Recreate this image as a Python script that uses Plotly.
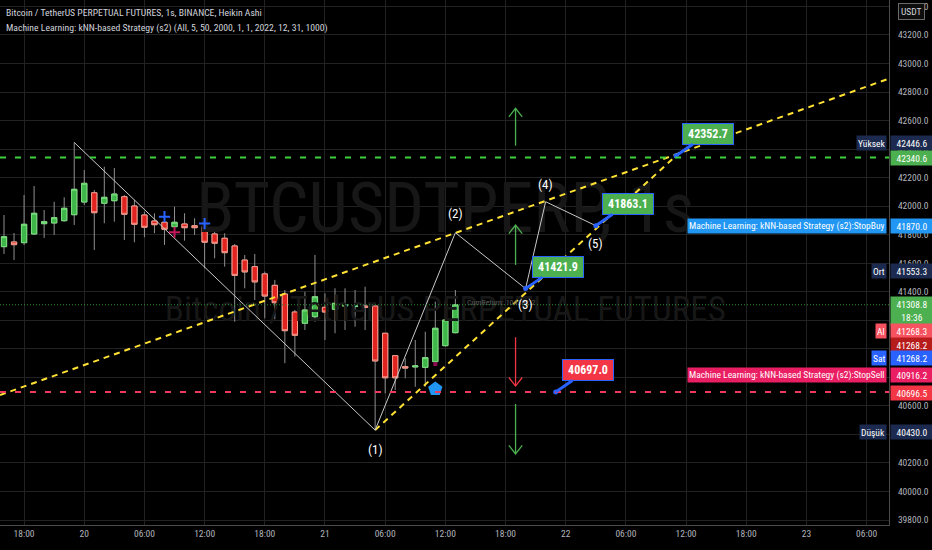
import plotly.graph_objects as go
import pandas as pd

# ---------------- data ----------------
times = pd.date_range("2024-01-19 16:00", periods=46, freq="h")
opens = [41716, 41749, 41744, 41805, 41877, 41882, 41898, 41940, 42029, 42094,
         42020, 42038, 42066, 42001, 41938, 41896, 41887, 41856, 41875, 41863,
         41856, 41805, 41775, 41721, 41622, 41576, 41525, 41445, 41384, 41258,
         41179, 41225, 41291, 41277, 41300, 41296, 41300, 41300, 41109, 40952,
         40875, 40873, 40870, 40910, 41022, 41113]
highs = [41938, 41812, 42078, 42141, 41973, 42031, 42062, 42446.6, 42253, 42113,
         42276, 42267, 42078, 42043, 41961, 41950, 41915, 41996, 41950, 41915,
         41875, 41821, 41810, 41735, 41658, 41665, 41541, 41483, 41412, 41272,
         41400, 41658, 41389, 41424, 41424, 41412, 41435, 41300, 41109, 40952,
         40934, 41062, 41120, 41330, 41337, 41412]
lows = [41665, 41622, 41728, 41798, 41777, 41798, 41891, 41868, 42008, 41693,
        41880, 41891, 41763, 41747, 41782, 41810, 41728, 41786, 41758, 41798,
        41564, 41634, 41576, 41190, 41424, 41342, 41214, 41207, 40899, 40945,
        41132, 41190, 41062, 41109, 41132, 41155, 41132, 40430.0, 40688, 40711,
        40793, 40734, 40734, 40887, 41015, 41109]
closes = [41786, 41730, 41873, 41950, 41891, 41919, 41985, 42118, 42160, 41954,
          42062, 42085, 41943, 41873, 41852, 41870, 41838, 41887, 41849, 41849,
          41747, 41740, 41674, 41515, 41539, 41469, 41370, 41323, 41127, 41095,
          41272, 41365, 41258, 41319, 41307, 41300, 41291, 40915, 40797, 40797,
          40865, 40880, 40938, 41144, 41202, 41308.8]

x_range = ["2024-01-19 15:36", "2024-01-23 08:14"]
y_range = [39765, 43445]
tick_times = ["2024-01-19 18:00", "2024-01-20 00:00", "2024-01-20 06:00", "2024-01-20 12:00",
              "2024-01-20 18:00", "2024-01-21 00:00", "2024-01-21 06:00", "2024-01-21 12:00",
              "2024-01-21 18:00", "2024-01-22 00:00", "2024-01-22 06:00", "2024-01-22 12:00",
              "2024-01-22 18:00", "2024-01-23 00:00", "2024-01-23 06:00"]
tick_text = ["18:00", "20", "06:00", "12:00", "18:00", "21", "06:00", "12:00",
             "18:00", "22", "06:00", "12:00", "18:00", "23", "06:00"]

# Elliott-like wave
wave_t = ["2024-01-19 23:00", "2024-01-21 05:00", "2024-01-21 13:00",
          "2024-01-21 20:00", "2024-01-21 22:00", "2024-01-22 03:00"]
wave_p = [42446.6, 40430.0, 41814, 41421.9, 42031, 41863.1]
wave_labels = ["(1)", "(2)", "(3)", "(4)", "(5)"]
wave_label_p = [40291, 41952, 41314, 42155, 41735]

# channel lines
upper_t = ["2024-01-19 15:36", "2024-01-23 08:14"]
upper_p = [40676, 42894]
lower_t = ["2024-01-21 05:00", "2024-01-22 11:00"]
lower_p = [40430.0, 42352.7]

# levels
high_level = 42340.6
low_level = 40696.5
last_price = 41308.8

# target callouts
target_t = ["2024-01-22 11:00", "2024-01-22 03:00", "2024-01-21 20:00", "2024-01-21 23:00"]
target_p = [42352.7, 41863.1, 41421.9, 40697.0]

# arrows (time, from, to)
arrow_t = "2024-01-21 19:00"
arrow_from = [42424, 41588, 41081, 40613]
arrow_to = [42686, 41868, 40739, 40263]

# signal markers
buy_plus_t = ["2024-01-20 08:00", "2024-01-20 12:00"]
buy_plus_p = [41926, 41878]
sell_plus_t = ["2024-01-20 09:00"]
sell_plus_p = [41817]
mark_t = ["2024-01-21 11:00"]
mark_p = [40893]
house_t = ["2024-01-21 11:00"]
house_p = [40718]

# right-axis labels
axis_label_text = ["42446.6", "42340.6", "41870.0", "41553.3", "41308.8<br>18:36",
                   "41268.3", "41268.2", "41268.2", "40916.2", "40696.5", "40430.0"]
axis_label_price = [42446.6, 42340.6, 41870.0, 41553.3, 41308.8,
                    41268.3, 41268.2, 41268.2, 40916.2, 40696.5, 40430.0]
axis_side_text = ["Yüksek", "", "Machine Learning: kNN-based Strategy (s2):StopBuy", "Ort", "",
                  "Al", "", "Sat", "Machine Learning: kNN-based Strategy (s2):StopSell", "", "Düşük"]

title1 = "Bitcoin / TetherUS PERPETUAL FUTURES, 1s, BINANCE, Heikin Ashi"
title2 = "Machine Learning: kNN-based Strategy (s2) (All, 5, 50, 2000, 1, 1, 2022, 12, 31, 1000)"
wm1 = "BTCUSDTPERP, 1s"
wm2 = "Bitcoin / TetherUS PERPETUAL FUTURES"

# ---------------- styles ----------------
FONT = "Liberation Sans Narrow, Arial Narrow, Roboto Condensed, Liberation Sans, sans-serif"
GREEN = "#4caf50"
NAVY = "#1b2a4e"
label_bg = [NAVY, GREEN, "#2196f3", NAVY, GREEN, "#f7525f", "#b71c1c", "#2962ff", "#e91e63", "#f23645", NAVY]
label_shift = [-1, 0, -1, -1, -6, -20, -34, -47, -14, -1, -2]
arrow_colors = [GREEN, GREEN, "#f23645", GREEN]

fig = go.Figure()

# watermarks (behind everything)
fig.add_trace(go.Scatter(x=["2024-01-21 12:00"], y=[41938], mode="text", text=[wm1],
                         textfont=dict(family=FONT, size=70, color="#171717"), hoverinfo="skip"))
fig.add_trace(go.Scatter(x=["2024-01-21 12:00"], y=[41258], mode="text", text=[wm2],
                         textfont=dict(family=FONT, size=35, color="#171717"), hoverinfo="skip"))

# wicks
fig.add_trace(go.Candlestick(x=times, open=opens, high=highs, low=lows, close=closes,
                             increasing=dict(line=dict(color="#8f8f8f", width=1), fillcolor="#8f8f8f"),
                             decreasing=dict(line=dict(color="#8f8f8f", width=1), fillcolor="#8f8f8f"),
                             whiskerwidth=0, hoverinfo="skip"))
# bodies
body_hi = [max(o, c) for o, c in zip(opens, closes)]
body_lo = [min(o, c) for o, c in zip(opens, closes)]
fig.add_trace(go.Candlestick(x=times, open=opens, high=body_hi, low=body_lo, close=closes,
                             increasing=dict(line=dict(color="#7be07f", width=1), fillcolor="#3fb649"),
                             decreasing=dict(line=dict(color="#f59a8c", width=1), fillcolor="#e0231e"),
                             whiskerwidth=0, hoverinfo="skip"))

# horizontal levels
fig.add_shape(type="line", xref="paper", x0=0, x1=1, y0=high_level, y1=high_level,
              line=dict(color="#3fd23f", width=2, dash="6px,9px"))
fig.add_shape(type="line", xref="paper", x0=0, x1=1, y0=low_level, y1=low_level,
              line=dict(color="#ef3a5d", width=2, dash="6px,9px"))
fig.add_shape(type="line", xref="paper", x0=0, x1=1, y0=last_price, y1=last_price,
              line=dict(color="#2f8f3a", width=1, dash="1px,2px"))

# channel lines
for tt, pp in [(upper_t, upper_p), (lower_t, lower_p)]:
    fig.add_trace(go.Scatter(x=tt, y=pp, mode="lines",
                             line=dict(color="#ffe234", width=2, dash="6px,5px"), hoverinfo="skip"))

# wave
fig.add_trace(go.Scatter(x=wave_t, y=wave_p, mode="lines",
                         line=dict(color="#c8c8c8", width=1), hoverinfo="skip"))

# arrows
head_dt = pd.Timedelta(minutes=40)
head_dp = 60
t0 = pd.Timestamp(arrow_t)
for f, t, col in zip(arrow_from, arrow_to, arrow_colors):
    d = 1 if t > f else -1
    xs = [t0, t0, None, t0 - head_dt, t0, t0 + head_dt]
    ys = [f, t, None, t - d * head_dp, t, t - d * head_dp]
    fig.add_trace(go.Scatter(x=xs, y=ys, mode="lines", line=dict(color=col, width=1.3),
                             hoverinfo="skip"))

# signal markers
fig.add_trace(go.Scatter(x=buy_plus_t, y=buy_plus_p, mode="markers",
                         marker=dict(symbol="cross-thin", size=8, line=dict(color="#2962ff", width=2)),
                         hoverinfo="skip"))
fig.add_trace(go.Scatter(x=sell_plus_t, y=sell_plus_p, mode="markers",
                         marker=dict(symbol="cross-thin", size=8, line=dict(color="#c2185b", width=2)),
                         hoverinfo="skip"))
fig.add_trace(go.Scatter(x=mark_t, y=mark_p, mode="markers",
                         marker=dict(symbol="square", size=4, color="#880e4f"), hoverinfo="skip"))
fig.add_trace(go.Scatter(x=house_t, y=house_p, mode="markers",
                         marker=dict(symbol="pentagon", size=15, color="#2196f3"), hoverinfo="skip"))
# target dots
fig.add_trace(go.Scatter(x=target_t, y=target_p, mode="markers",
                         marker=dict(symbol="circle", size=5, color="#2962ff"), hoverinfo="skip"))

annotations = []
# titles
annotations.append(dict(xref="paper", yref="paper", x=0, y=1, xanchor="left", yanchor="top",
                        xshift=4, yshift=-5, text=title1, showarrow=False, align="left",
                        font=dict(family=FONT, size=9.7, color="#d1d4dc")))
annotations.append(dict(xref="paper", yref="paper", x=0, y=1, xanchor="left", yanchor="top",
                        xshift=4, yshift=-20, text=title2, showarrow=False, align="left",
                        font=dict(family=FONT, size=9.7, color="#d1d4dc")))
# CumReturn text
annotations.append(dict(x="2024-01-21 17:30", y=41322, text="CumReturn: 104361.2", showarrow=False,
                        font=dict(family=FONT, size=8, color="#5a5a5a")))
# wave labels
for lab, tt, pp in zip(wave_labels, wave_t[1:], wave_label_p):
    annotations.append(dict(x=tt, y=pp, text=lab, showarrow=False,
                            font=dict(family=FONT, size=13, color="#ffffff")))
# target callouts
tcol = [GREEN, GREEN, GREEN, "#f23645"]
for tt, pp, c in zip(target_t, target_p, tcol):
    annotations.append(dict(x=tt, y=pp, text="<b>%.1f</b>" % pp, showarrow=True, ax=32, ay=-22,
                            arrowhead=0, arrowwidth=3, arrowcolor="#2962ff", standoff=0,
                            width=44, height=14,
                            bgcolor=c, bordercolor="#2962ff", borderwidth=1, borderpad=3,
                            font=dict(family=FONT, size=12, color="#ffffff")))
# axis labels
for txt, pr, side, bg, sh in zip(axis_label_text, axis_label_price, axis_side_text, label_bg, label_shift):
    two = "<br>" in txt
    annotations.append(dict(xref="paper", yref="y", x=1, y=pr, xanchor="left", yanchor="middle",
                            xshift=1, yshift=sh, text=txt, showarrow=False, bgcolor=bg,
                            width=40, height=26 if two else 12, borderpad=1,
                            font=dict(family=FONT, size=9.5, color="#ffffff")))
    if side:
        annotations.append(dict(xref="paper", yref="y", x=1, y=pr, xanchor="right", yanchor="middle",
                                xshift=-2, yshift=sh, text=side, showarrow=False, bgcolor=bg,
                                height=12, borderpad=1,
                                font=dict(family=FONT, size=9.5, color="#ffffff")))
# USDT box
annotations.append(dict(xref="paper", yref="paper", x=1, y=1, xanchor="left", yanchor="top",
                        xshift=9, yshift=-3, text="USDT", showarrow=False, bgcolor="#0d0d0d",
                        bordercolor="#6a6a6a", borderwidth=1, borderpad=2,
                        font=dict(family=FONT, size=9.5, color="#d1d4dc")))

fig.update_layout(
    width=932, height=550, margin=dict(l=0, r=43, t=0, b=25),
    paper_bgcolor="#000000", plot_bgcolor="#000000", showlegend=False,
    annotations=annotations, boxgap=0.25,
    xaxis=dict(type="date", range=x_range, tickvals=tick_times, ticktext=tick_text,
               showgrid=True, gridcolor="#222222", gridwidth=1, zeroline=False,
               showline=True, linecolor="#4a4a4a", ticks="",
               tickfont=dict(family=FONT, size=9.5, color="#b2b5be"),
               rangeslider=dict(visible=False)),
    yaxis=dict(side="right", range=y_range, dtick=200, tick0=0, tickformat=".1f",
               showgrid=True, gridcolor="#222222", zeroline=False,
               showline=True, linecolor="#4a4a4a", ticks="", ticklabelstandoff=6,
               tickfont=dict(family=FONT, size=9.5, color="#b2b5be")),
)

fig.write_html("out.html", config=dict(displayModeBar=False),
               post_script="document.body.style.margin='0px';document.body.style.overflow='hidden';")
